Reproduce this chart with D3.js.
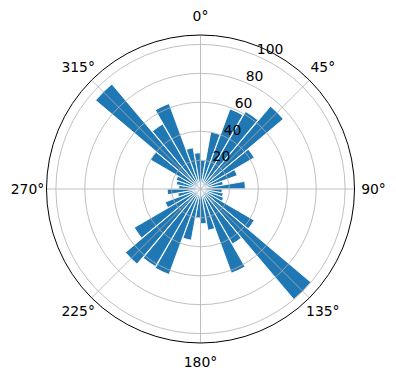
<!DOCTYPE html>
<html>
<head>
<meta charset="utf-8">
<script src="https://cdn.jsdelivr.net/npm/d3@7"></script>
<style>
  body { margin: 0; background: #fff; }
  svg { display: block; font-family: "DejaVu Sans", sans-serif; }
</style>
</head>
<body>
<svg width="396" height="380"></svg>
<script>
(function () {
    'use strict';

    // bar centres (degrees, clockwise from north) and bar heights
    const angles = [5, 15, 25, 35, 45, 55, 65, 75, 85, 95, 105, 115,
        125, 135, 145, 155, 165, 175, 185, 195, 205, 215, 225, 235,
        245, 255, 265, 275, 285, 295, 305, 315, 325, 335, 345, 355];
    const values = [20, 40, 59, 62, 75, 43, 27, 16, 31, 15, 16, 17,
        43, 100, 44, 62, 29, 24, 20, 36, 63, 62, 68, 53,
        26, 16, 23, 15, 17, 18, 40, 95, 52, 63, 29, 25];
    const rTicks = [20, 40, 60, 80, 100];
    const thetaTicks = [0, 45, 90, 135, 180, 225, 270, 315];

    const cx = 200.5, cy = 189, outer = 154;
    const barWidth = 9.6; // degrees

    const r = d3.scaleLinear().domain([0, 106.5]).range([0, outer]);
    const rad = d => d * Math.PI / 180;

    const svg = d3.select('svg');
    const g = svg.append('g').attr('transform', `translate(${cx},${cy})`);

    const arc = d3.arc()
        .innerRadius(0)
        .outerRadius(d => r(d.v))
        .startAngle(d => rad(d.a - barWidth / 2))
        .endAngle(d => rad(d.a + barWidth / 2));

    const bars = angles.map((a, i) => ({ a: a, v: values[i] }));

    g.append('g').selectAll('path').data(bars).enter().append('path')
        .attr('d', arc)
        .attr('fill', '#1f77b4')
        .attr('stroke', '#ffffff')
        .attr('stroke-width', 0.9);

    // grid on top of bars
    const grid = g.append('g').attr('fill', 'none').attr('stroke', '#b0b0b0').attr('stroke-width', 0.8);
    grid.selectAll('circle').data(rTicks).enter().append('circle')
        .attr('r', d => r(d));
    grid.selectAll('line').data(thetaTicks).enter().append('line')
        .attr('x1', 0).attr('y1', 0)
        .attr('x2', d => outer * Math.sin(rad(d)))
        .attr('y2', d => -outer * Math.cos(rad(d)));

    g.append('circle').attr('r', outer)
        .attr('fill', 'none').attr('stroke', '#000').attr('stroke-width', 1);

    // angle labels
    const lr = 173;
    g.append('g').selectAll('text').data(thetaTicks).enter().append('text')
        .attr('x', d => lr * Math.sin(rad(d)))
        .attr('y', d => -lr * Math.cos(rad(d)))
        .attr('text-anchor', 'middle')
        .attr('dominant-baseline', 'central')
        .attr('font-size', 13.9)
        .attr('fill', '#000')
        .text(d => d + '°');

    // radial labels along 22.5°
    const la = rad(22.5);
    g.append('g').selectAll('text').data(rTicks).enter().append('text')
        .attr('x', d => r(d) * Math.sin(la) + 1)
        .attr('y', d => -r(d) * Math.cos(la) - 1)
        .attr('font-size', 13.9)
        .attr('fill', '#000')
        .text(d => d);
})();
</script>
</body>
</html>
